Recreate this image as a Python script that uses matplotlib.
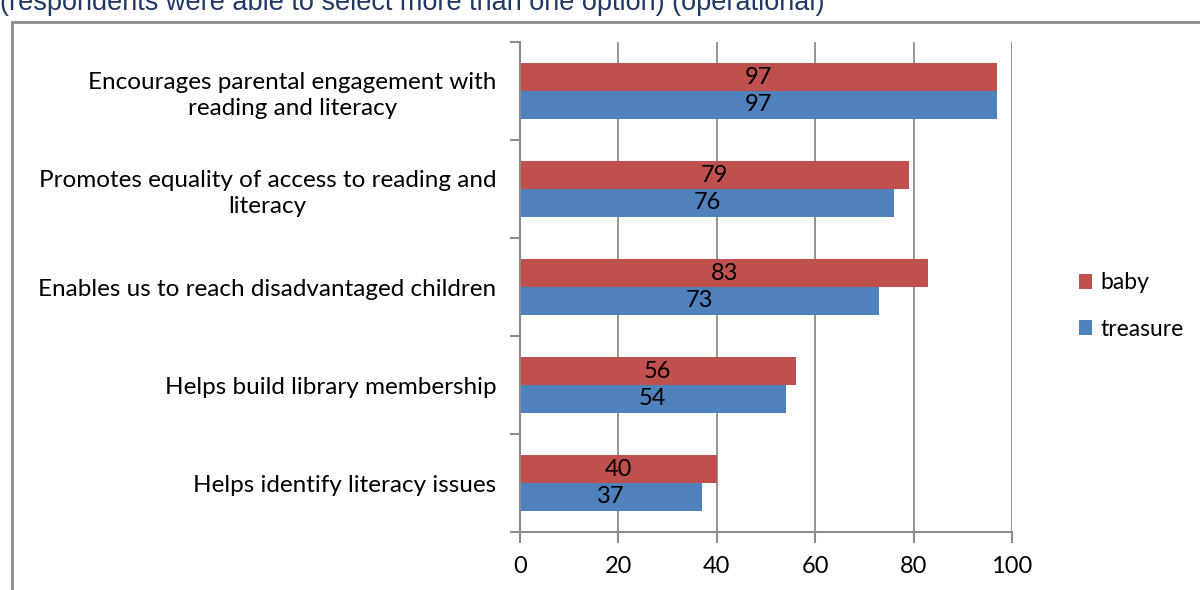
import numpy as np
import matplotlib.pyplot as plt
from matplotlib.patches import Rectangle

categories = ["Encourages parental engagement with\nreading and literacy",
              "Promotes equality of access to reading and\nliteracy",
              "Enables us to reach disadvantaged children",
              "Helps build library membership",
              "Helps identify literacy issues"]
baby = [97, 79, 83, 56, 40]
treasure = [97, 76, 73, 54, 37]

red = "#C0504D"
blue = "#4F81BD"
grey = "#8C8C8C"
plt.rcParams['font.family'] = ['Lato', 'DejaVu Sans']

fig = plt.figure(figsize=(12, 5.9), dpi=100)
ax = fig.add_axes([520/1200, 1-532/590, 492/1200, 490/590])

y = np.arange(len(categories))
h = 0.285
b1 = ax.barh(y - h/2, baby, height=h, color=red, label="baby")
b2 = ax.barh(y + h/2, treasure, height=h, color=blue, label="treasure")
for bars, vals in ((b1, baby), (b2, treasure)):
    for r, v in zip(bars, vals):
        ax.text(r.get_x() + r.get_width()/2, r.get_y() + r.get_height()/2, str(v),
                ha='center', va='center', fontsize=17, color='black')

ax.set_xlim(0, 100)
ax.set_ylim(len(categories) - 0.5, -0.5)
ax.set_xticks(range(0, 101, 20))
ax.set_yticks(y)
ax.set_yticklabels(categories, fontsize=17.5, ha='right', multialignment='center',
                   linespacing=1.3)
ax.set_yticks(np.arange(-0.5, len(categories)), minor=True)
ax.tick_params(axis='y', which='major', length=0, pad=17)
ax.tick_params(axis='y', which='minor', length=7, color=grey, width=1.5, direction='out')
ax.tick_params(axis='x', length=8, color=grey, width=1.5, labelsize=17, pad=9)
ax.xaxis.grid(True, color=grey, linewidth=1.3)
ax.set_axisbelow(True)
for s in ('top', 'right'):
    ax.spines[s].set_visible(False)
for s in ('left', 'bottom'):
    ax.spines[s].set_color(grey)
    ax.spines[s].set_linewidth(1.5)

ax.legend(handles=[b1, b2], loc='center left', bbox_to_anchor=(1058/1200, 1-306/590),
          bbox_transform=fig.transFigure, frameon=False, fontsize=16.5,
          handlelength=0.6, handleheight=0.6, handletextpad=0.35, labelspacing=1.1)

fig.patches.append(Rectangle((12/1200, -0.1), 1.2, 1-22/590 + 0.1, transform=fig.transFigure,
                             fill=False, edgecolor=grey, linewidth=2))
fig.text(0/1200, 1-10/590, "(respondents were able to select more than one option) (operational)",
         fontsize=19.5, color="#1F3864", family='Liberation Sans', ha='left', va='baseline')

fig.savefig("out.png", dpi=100)
